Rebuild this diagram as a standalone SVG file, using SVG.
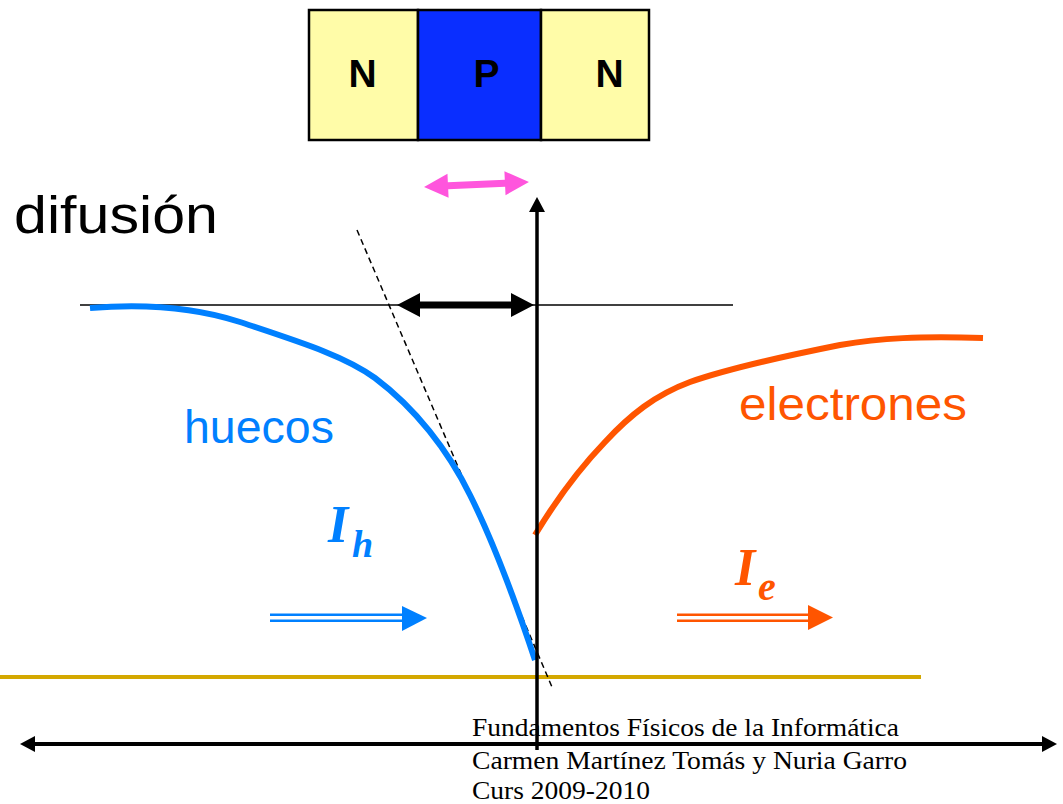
<svg xmlns="http://www.w3.org/2000/svg" width="1063" height="804" viewBox="0 0 1063 804">
<style>
.box{stroke:#000;stroke-width:2.5}
.nlab{font-family:"Liberation Sans",Arial,sans-serif;font-weight:bold;font-size:39px;text-anchor:middle;fill:#000}
.sans{font-family:"Liberation Sans",Arial,sans-serif}
.ital{font-family:"Liberation Serif","Times New Roman",serif;font-weight:bold;font-style:italic}
.foot{font-family:"Liberation Serif","Times New Roman",serif;font-size:25px;fill:#000}
</style>
<defs>
<marker id="ah" viewBox="0 0 15 16" refX="0" refY="8" markerWidth="15" markerHeight="16" markerUnits="userSpaceOnUse" orient="auto">
<path d="M0,0 L15,8 L0,16 Z" fill="#000"/>
</marker>
</defs>
<rect width="1063" height="804" fill="#fff"/>
<g id="device">
<g id="n-left"><rect class="box" x="309" y="10" width="109" height="130" fill="#FFFCA8"/><text class="nlab" x="362.5" y="87">N</text></g>
<g id="p-mid"><rect class="box" x="418" y="10" width="123" height="130" fill="#0A2EFF"/><text class="nlab" x="486.5" y="87">P</text></g>
<g id="n-right"><rect class="box" x="541" y="10" width="108" height="130" fill="#FFFCA8"/><text class="nlab" x="609.5" y="87">N</text></g>
</g>
<g id="labels">
<text class="sans" x="14" y="233" font-size="51" fill="#000" textLength="204" lengthAdjust="spacingAndGlyphs">difusión</text>
<text class="sans" x="184" y="443" font-size="47" fill="#0080FF" textLength="150" lengthAdjust="spacingAndGlyphs">huecos</text>
<text class="sans" x="739" y="420" font-size="46" fill="#FF5500" textLength="228" lengthAdjust="spacingAndGlyphs">electrones</text>
<text class="ital" x="328" y="542" font-size="52" fill="#0080FF">I</text>
<text class="ital" x="352" y="557" font-size="38" fill="#0080FF">h</text>
<text class="ital" x="735" y="585" font-size="52" fill="#FF5500">I</text>
<text class="ital" x="758" y="600" font-size="40" fill="#FF5500">e</text>
<text class="foot" x="472" y="736" textLength="427" lengthAdjust="spacingAndGlyphs">Fundamentos Físicos de la Informática</text>
<text class="foot" x="472" y="769" textLength="435" lengthAdjust="spacingAndGlyphs">Carmen Martínez Tomás y Nuria Garro</text>
<text class="foot" x="472" y="799" textLength="178" lengthAdjust="spacingAndGlyphs">Curs 2009-2010</text>
</g>
<g id="connectors">
<line x1="80" y1="305" x2="733" y2="305" stroke="#000" stroke-width="1.5"/>
<line x1="0" y1="677" x2="921" y2="677" stroke="#D4A800" stroke-width="4"/>
<line x1="357" y1="230" x2="552" y2="687" stroke="#000" stroke-width="1.5" stroke-dasharray="6,4"/>
<path d="M90,308 C150,303 200,309 240,322 C300,342 345,356 375,378 C415,408 448,450 470,495 C495,545 515,600 535,660" fill="none" stroke="#0080FF" stroke-width="6"/>
<path d="M535,535 C555,502 580,468 605,442 C630,415 655,395 690,382 C730,368 790,355 840,345 C880,338 920,336 983,338" fill="none" stroke="#FF5500" stroke-width="6"/>
<line x1="537" y1="750" x2="537" y2="212" stroke="#000" stroke-width="3.5" marker-end="url(#ah)"/>
<line x1="35" y1="744" x2="1042" y2="744" stroke="#000" stroke-width="4"/>
<path d="M20,744 L35,736 L35,752 Z M1057,744 L1042,736 L1042,752 Z" fill="#000"/>
<polygon points="397,305 420,293 420,301.5 511,301.5 511,293 534,305 511,317 511,308.5 420,308.5 420,317" fill="#000"/>
<polygon transform="translate(476.5,184.5) rotate(-2.7)" points="-52.5,0 -28.5,-12 -28.5,-3.5 28.5,-3.5 28.5,-12 52.5,0 28.5,12 28.5,3.5 -28.5,3.5 -28.5,12" fill="#FF55DD"/>
<g id="ih-arrow" fill="#0080FF">
<rect x="270" y="613.5" width="134" height="2.5"/>
<rect x="270" y="619.5" width="134" height="2.5"/>
<polygon points="402,606 427,618 402,631"/>
</g>
<g id="ie-arrow" fill="#FF5500">
<rect x="677" y="613.5" width="133" height="2.5"/>
<rect x="677" y="619.5" width="133" height="2.5"/>
<polygon points="808,605 833,617.5 808,630"/>
</g>
</g>
</svg>
